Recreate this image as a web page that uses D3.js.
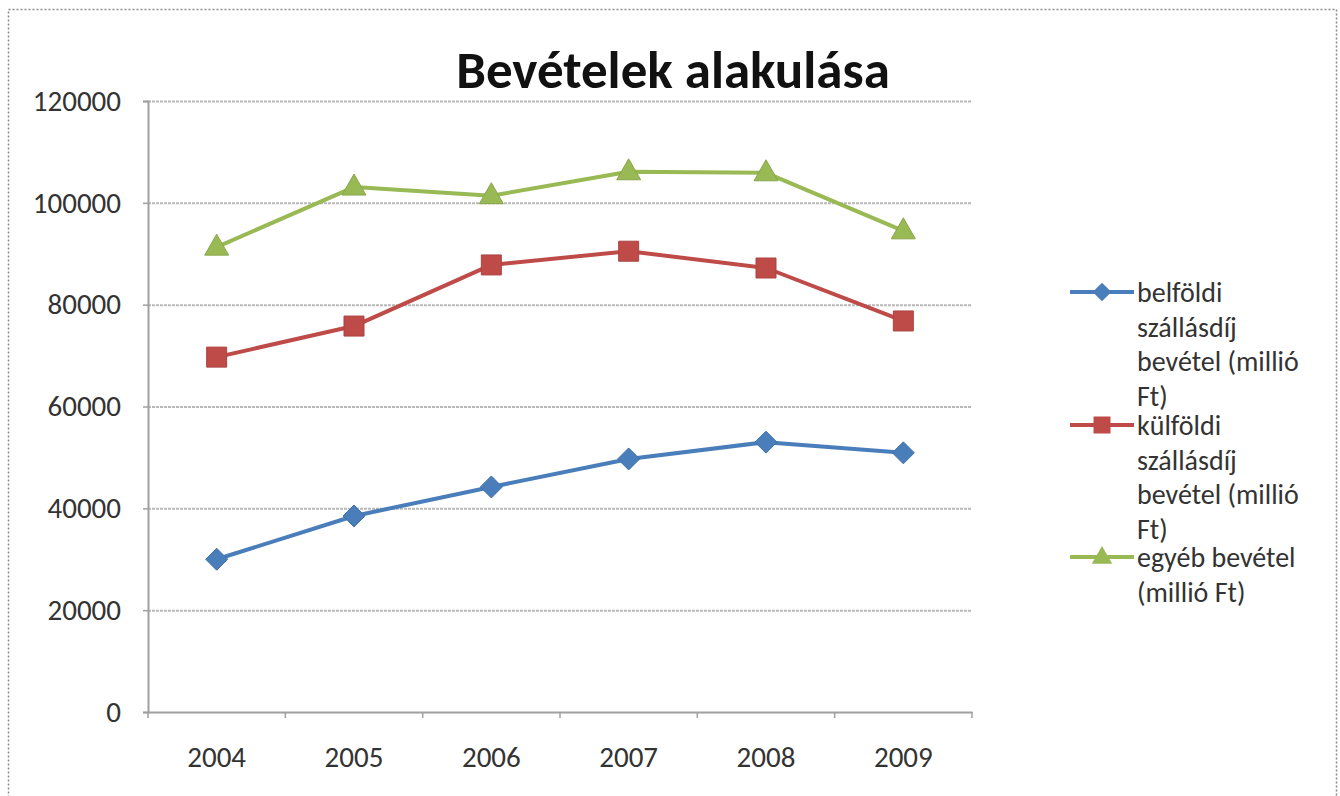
<!DOCTYPE html>
<html>
<head>
<meta charset="utf-8">
<script src="https://cdn.jsdelivr.net/npm/d3@7"></script>
<style>
  body { margin: 0; background: #fff; }
  svg { display: block; font-family: Carlito, Lato, "Open Sans", sans-serif; }
</style>
</head>
<body>
<svg id="chart" width="1340" height="796"></svg>
<script>
// chart data
var years = ["2004", "2005", "2006", "2007", "2008", "2009"];
var belfoldi = [30000, 38500, 44200, 49700, 53000, 50900];
var kulfoldi = [69700, 75800, 87800, 90500, 87200, 76800];
var egyeb = [91300, 103100, 101400, 106100, 105900, 94500];
var seriesNames = ["belföldi szállásdíj bevétel (millió Ft)", "külföldi szállásdíj bevétel (millió Ft)", "egyéb bevétel (millió Ft)"];
var yTicks = [0, 20000, 40000, 60000, 80000, 100000, 120000];

var series = [
  {name: seriesNames[0], values: belfoldi, color: "#4a7ebb", shape: "diamond",
   legendLines: ["belföldi", "szállásdíj", "bevétel (millió", "Ft)"]},
  {name: seriesNames[1], values: kulfoldi, color: "#be4b48", shape: "square",
   legendLines: ["külföldi", "szállásdíj", "bevétel (millió", "Ft)"]},
  {name: seriesNames[2], values: egyeb, color: "#98b954", shape: "triangle",
   legendLines: ["egyéb bevétel", "(millió Ft)"]}
];

function markerPath(shape) {
  if (shape === "diamond") return "M0,-11L11,0L0,11L-11,0Z";
  if (shape === "square") return "M-10,-10H10V10H-10Z";
  return "M0,-13L12,8H-12Z";
}

var svg = d3.select("#chart");

// dotted chart border
svg.append("rect")
  .attr("x", 8.5).attr("y", 9.5).attr("width", 1328).attr("height", 800)
  .attr("fill", "none").attr("stroke", "#8a8a8a").attr("stroke-width", 1.5)
  .attr("stroke-dasharray", "2,2");

var plotLeft = 148, plotRight = 972, plotTop = 101, plotBottom = 712;

var x = d3.scaleBand().domain(years).range([plotLeft, plotRight]);
var y = d3.scaleLinear().domain([0, 120000]).range([plotBottom, plotTop]);

// gridlines
svg.append("g").selectAll("line").data(yTicks.filter(function (d) { return d > 0; }))
  .enter().append("line")
  .attr("x1", plotLeft).attr("x2", plotRight)
  .attr("y1", function (d) { return y(d) + 0.5; })
  .attr("y2", function (d) { return y(d) + 0.5; })
  .attr("stroke", "#b8b8b8").attr("stroke-width", 2)
  .attr("stroke-dasharray", "3,1");

// y axis
var yAxis = svg.append("g")
  .attr("transform", "translate(" + plotLeft + ",0)")
  .call(d3.axisLeft(y).tickValues(yTicks).tickSize(5).tickPadding(22).tickFormat(d3.format("d")));
yAxis.select(".domain").attr("stroke", "#a0a0a0").attr("stroke-width", 2);
yAxis.selectAll(".tick line").attr("stroke", "#a0a0a0").attr("stroke-width", 1.5);
yAxis.selectAll("text").attr("font-size", 29).attr("fill", "#333").attr("font-family", "Carlito, Lato, sans-serif");

// x axis
var xAxis = svg.append("g")
  .attr("transform", "translate(0," + plotBottom + ")")
  .call(d3.axisBottom(x).tickSize(0).tickPadding(34));
xAxis.select(".domain").attr("stroke", "#a0a0a0").attr("stroke-width", 2);
xAxis.selectAll("text").attr("font-size", 29).attr("fill", "#333").attr("font-family", "Carlito, Lato, sans-serif");
// ticks between categories
xAxis.append("g").selectAll("line").data(years.concat(["end"]))
  .enter().append("line")
  .attr("x1", function (d, i) { return plotLeft + i * x.step(); })
  .attr("x2", function (d, i) { return plotLeft + i * x.step(); })
  .attr("y1", 0).attr("y2", 6)
  .attr("stroke", "#a0a0a0").attr("stroke-width", 1.5);

var line = d3.line()
  .x(function (d, i) { return x(years[i]) + x.bandwidth() / 2; })
  .y(function (d) { return y(d); });

series.forEach(function (s) {
  var g = svg.append("g");
  g.append("path")
    .attr("d", line(s.values))
    .attr("fill", "none").attr("stroke", s.color).attr("stroke-width", 4)
    .attr("stroke-linejoin", "round");
  g.selectAll("path.marker").data(s.values)
    .enter().append("path")
    .attr("class", "marker")
    .attr("d", markerPath(s.shape))
    .attr("transform", function (d, i) {
      return "translate(" + (x(years[i]) + x.bandwidth() / 2) + "," + y(d) + ")";
    })
    .attr("fill", s.color).attr("stroke", d3.color(s.color).darker(0.3)).attr("stroke-width", 1);
});

// legend
var legendStarts = [292, 425, 557];
var lineH = 34.5;
series.forEach(function (s, k) {
  var ly = legendStarts[k];
  var g = svg.append("g");
  g.append("line")
    .attr("x1", 1070).attr("x2", 1134).attr("y1", ly).attr("y2", ly)
    .attr("stroke", s.color).attr("stroke-width", 4);
  g.append("path")
    .attr("d", markerPath(s.shape))
    .attr("transform", "translate(1102," + ly + ") scale(0.85)")
    .attr("fill", s.color);
  g.selectAll("text").data(s.legendLines)
    .enter().append("text")
    .attr("x", 1137)
    .attr("y", function (d, i) { return ly + 10 + i * lineH; })
    .attr("font-size", 28).attr("fill", "#333")
    .text(function (d) { return d; });
});

// title
svg.append("text")
  .attr("x", 673).attr("y", 88)
  .attr("text-anchor", "middle")
  .attr("font-size", 53).attr("font-weight", "bold").attr("fill", "#111")
  .text("Bevételek alakulása");
</script>
</body>
</html>
